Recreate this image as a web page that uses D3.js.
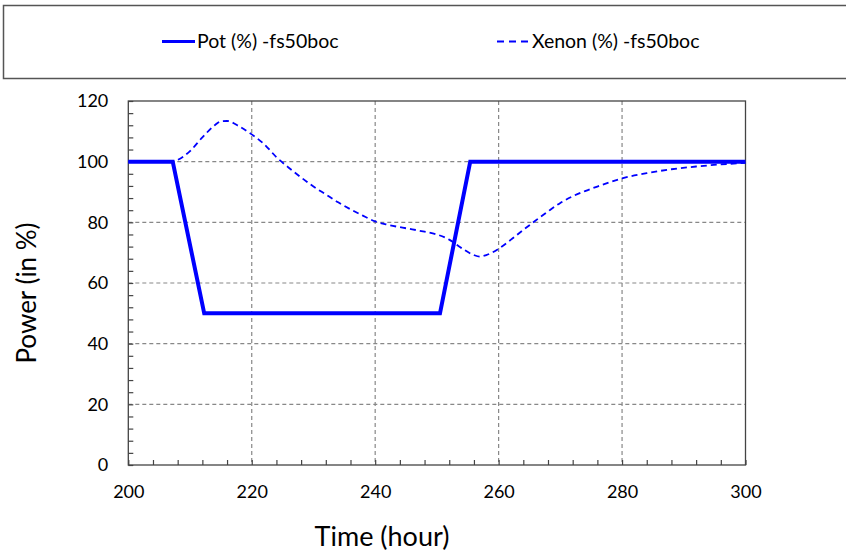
<!DOCTYPE html>
<html>
<head>
<meta charset="utf-8">
<script src="https://cdn.jsdelivr.net/npm/d3@7"></script>
<style>
  body { margin: 0; background: #fff; }
  svg { display: block; font-family: Lato, "Open Sans", sans-serif; }
</style>
</head>
<body>
<svg id="chart" width="846" height="552"></svg>
<script>
// ---- data ----
const potTime  = [200, 207.2, 212.3, 250.5, 255.4, 300];
const potValue = [100, 100,   50,    50,    100,   100];

const xenonTime  = [200, 207, 208, 210, 212, 214, 215, 216, 218, 220, 222, 224, 226, 228, 230, 232, 234, 236, 238, 240, 242, 244, 246, 248, 250, 252, 254, 256, 257, 258, 260, 262, 264, 266, 268, 270, 272, 274, 276, 278, 280, 284, 288, 292, 296, 300];
const xenonValue = [100, 100, 100.6, 103.5, 108, 112, 113.3, 113.4, 111.6, 109, 105.8, 101.5, 98, 94.8, 91.8, 89.2, 86.6, 84.3, 82.2, 80.3, 79.2, 78.4, 77.7, 76.9, 76, 74.3, 71.5, 69.2, 68.7, 69.2, 71.3, 74.3, 77.5, 80.6, 83.6, 86.4, 88.6, 90.3, 91.8, 93.2, 94.5, 96.2, 97.5, 98.4, 99.1, 99.6];

const xTicks = [200, 220, 240, 260, 280, 300];
const yTicks = [0, 20, 40, 60, 80, 100, 120];
const seriesNames = ["Pot (%) -fs50boc", "Xenon (%) -fs50boc"];
const xTitle = "Time (hour)";
const yTitle = "Power (in %)";

// ---- layout ----
const svg = d3.select("#chart");
const pL = 128.3, pR = 745.5, pT = 101, pB = 465;
const x = d3.scaleLinear().domain([200, 300]).range([pL, pR]);
const y = d3.scaleLinear().domain([0, 120]).range([pB, pT]);
const blue = "#0000ff";

// legend box
svg.append("rect").attr("x", 3.5).attr("y", 5.5).attr("width", 850).attr("height", 73)
  .attr("fill", "#fff").attr("stroke", "#555").attr("stroke-width", 1.5);

const legendItems = [
  {name: seriesNames[0], x0: 162, dash: null, w: 3},
  {name: seriesNames[1], x0: 497, dash: "7,5", w: 1.8}
];
legendItems.forEach(d => {
  svg.append("line").attr("x1", d.x0).attr("x2", d.x0 + 33).attr("y1", 41.5).attr("y2", 41.5)
    .attr("stroke", blue).attr("stroke-width", d.w).attr("stroke-dasharray", d.dash);
  svg.append("text").attr("x", d.x0 + 35).attr("y", 41.5).attr("dy", "0.35em")
    .attr("font-size", 19.5).attr("fill", "#000").text(d.name);
});

// gridlines
const grid = svg.append("g").attr("stroke", "#888").attr("stroke-width", 1.2).attr("stroke-dasharray", "4,3");
yTicks.filter(v => v > 0 && v < 120).forEach(v => {
  grid.append("line").attr("x1", pL).attr("x2", pR).attr("y1", y(v)).attr("y2", y(v));
});
xTicks.filter(v => v > 200 && v < 300).forEach(v => {
  grid.append("line").attr("x1", x(v)).attr("x2", x(v)).attr("y1", pT).attr("y2", pB);
});

// frame
svg.append("rect").attr("x", pL).attr("y", pT).attr("width", pR - pL).attr("height", pB - pT)
  .attr("fill", "none").attr("stroke", "#444").attr("stroke-width", 1.3);

// axes (ticks inside)
const xAxis = d3.axisBottom(x).tickValues(d3.range(200, 301, 4)).tickSize(-5).tickFormat("");
svg.append("g").attr("transform", `translate(0,${pB})`).call(xAxis)
  .call(g => g.select(".domain").remove())
  .call(g => g.selectAll("line").attr("stroke", "#444").attr("stroke-width", 1.2));
const yAxis = d3.axisLeft(y).tickValues(d3.range(0, 121, 4)).tickSize(-5).tickFormat("");
svg.append("g").attr("transform", `translate(${pL},0)`).call(yAxis)
  .call(g => g.select(".domain").remove())
  .call(g => g.selectAll("line").attr("stroke", "#444").attr("stroke-width", 1.2));

// tick labels
const xl = d3.axisBottom(x).tickValues(xTicks).tickSize(0).tickPadding(20);
svg.append("g").attr("transform", `translate(0,${pB})`).call(xl)
  .call(g => g.select(".domain").remove())
  .call(g => g.selectAll("text").attr("font-size", 18).attr("fill", "#000").attr("font-family", "Lato, sans-serif"));
const yl = d3.axisLeft(y).tickValues(yTicks).tickSize(0).tickPadding(20);
svg.append("g").attr("transform", `translate(${pL},0)`).call(yl)
  .call(g => g.select(".domain").remove())
  .call(g => g.selectAll("text").attr("font-size", 18).attr("fill", "#000").attr("font-family", "Lato, sans-serif"));

// axis titles
svg.append("text").attr("x", 382).attr("y", 546)
  .attr("text-anchor", "middle").attr("font-size", 27).text(xTitle);
svg.append("text").attr("transform", `translate(36,293) rotate(-90)`)
  .attr("text-anchor", "middle").attr("font-size", 26).text(yTitle);

// lines
const xenonData = xenonTime.map((t, i) => [t, xenonValue[i]]);
const xenonLine = d3.line().x(d => x(d[0])).y(d => y(d[1])).curve(d3.curveMonotoneX);
svg.append("path").datum(xenonData)
  .attr("d", xenonLine)
  .attr("fill", "none").attr("stroke", blue).attr("stroke-width", 1.8).attr("stroke-dasharray", "6,4");

const potData = potTime.map((t, i) => [t, potValue[i]]);
const potLine = d3.line().x(d => x(d[0])).y(d => y(d[1]));
svg.append("path").datum(potData)
  .attr("d", potLine)
  .attr("fill", "none").attr("stroke", blue).attr("stroke-width", 4).attr("stroke-linejoin", "miter");
</script>
</body>
</html>
